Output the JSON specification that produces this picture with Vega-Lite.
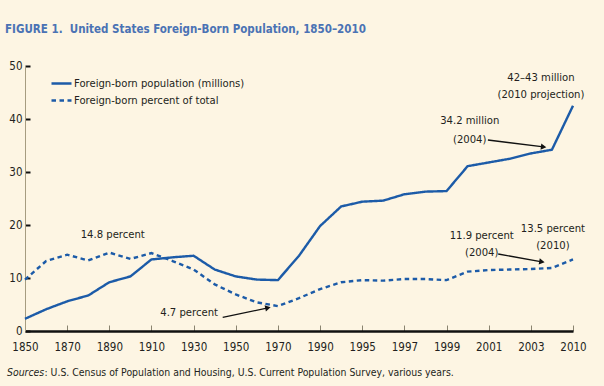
{
  "$schema": "https://vega.github.io/schema/vega-lite/v6.json",
  "width": 548,
  "height": 265,
  "autosize": {"type": "none"},
  "padding": {"left": 25, "top": 66, "right": 31, "bottom": 55},
  "background": "#FDF5E3",
  "title": {
    "text": "FIGURE 1.\u00a0 United States Foreign-Born Population, 1850–2010",
    "anchor": "start",
    "frame": "group",
    "dx": -20,
    "offset": 25,
    "font": "DejaVu Sans Condensed, sans-serif",
    "fontSize": 11.5,
    "fontWeight": "bold",
    "color": "#4A72B4"
  },
  "config": {
    "view": {"stroke": null},
    "font": "DejaVu Sans Condensed, sans-serif",
    "text": {"color": "#231F20", "fontSize": 11.2, "baseline": "middle"}
  },
  "datasets": {
    "series": [
      {"year": "1850", "series": "Foreign-born population (millions)", "value": 2.3},
      {"year": "1860", "series": "Foreign-born population (millions)", "value": 4.1},
      {"year": "1870", "series": "Foreign-born population (millions)", "value": 5.6},
      {"year": "1880", "series": "Foreign-born population (millions)", "value": 6.7},
      {"year": "1890", "series": "Foreign-born population (millions)", "value": 9.2},
      {"year": "1900", "series": "Foreign-born population (millions)", "value": 10.3},
      {"year": "1910", "series": "Foreign-born population (millions)", "value": 13.5},
      {"year": "1920", "series": "Foreign-born population (millions)", "value": 13.9},
      {"year": "1930", "series": "Foreign-born population (millions)", "value": 14.2},
      {"year": "1940", "series": "Foreign-born population (millions)", "value": 11.6},
      {"year": "1950", "series": "Foreign-born population (millions)", "value": 10.3},
      {"year": "1960", "series": "Foreign-born population (millions)", "value": 9.7},
      {"year": "1970", "series": "Foreign-born population (millions)", "value": 9.6},
      {"year": "1980", "series": "Foreign-born population (millions)", "value": 14.2},
      {"year": "1990", "series": "Foreign-born population (millions)", "value": 19.8},
      {"year": "1994", "series": "Foreign-born population (millions)", "value": 23.5},
      {"year": "1995", "series": "Foreign-born population (millions)", "value": 24.4},
      {"year": "1996", "series": "Foreign-born population (millions)", "value": 24.6},
      {"year": "1997", "series": "Foreign-born population (millions)", "value": 25.8},
      {"year": "1998", "series": "Foreign-born population (millions)", "value": 26.3},
      {"year": "1999", "series": "Foreign-born population (millions)", "value": 26.4},
      {"year": "2000", "series": "Foreign-born population (millions)", "value": 31.1},
      {"year": "2001", "series": "Foreign-born population (millions)", "value": 31.8},
      {"year": "2002", "series": "Foreign-born population (millions)", "value": 32.5},
      {"year": "2003", "series": "Foreign-born population (millions)", "value": 33.5},
      {"year": "2004", "series": "Foreign-born population (millions)", "value": 34.2},
      {"year": "2010", "series": "Foreign-born population (millions)", "value": 42.5},
      {"year": "1850", "series": "Foreign-born percent of total", "value": 9.7},
      {"year": "1860", "series": "Foreign-born percent of total", "value": 13.2},
      {"year": "1870", "series": "Foreign-born percent of total", "value": 14.4},
      {"year": "1880", "series": "Foreign-born percent of total", "value": 13.3},
      {"year": "1890", "series": "Foreign-born percent of total", "value": 14.8},
      {"year": "1900", "series": "Foreign-born percent of total", "value": 13.6},
      {"year": "1910", "series": "Foreign-born percent of total", "value": 14.7},
      {"year": "1920", "series": "Foreign-born percent of total", "value": 13.2},
      {"year": "1930", "series": "Foreign-born percent of total", "value": 11.6},
      {"year": "1940", "series": "Foreign-born percent of total", "value": 8.8},
      {"year": "1950", "series": "Foreign-born percent of total", "value": 6.9},
      {"year": "1960", "series": "Foreign-born percent of total", "value": 5.4},
      {"year": "1970", "series": "Foreign-born percent of total", "value": 4.7},
      {"year": "1980", "series": "Foreign-born percent of total", "value": 6.2},
      {"year": "1990", "series": "Foreign-born percent of total", "value": 7.9},
      {"year": "1994", "series": "Foreign-born percent of total", "value": 9.2},
      {"year": "1995", "series": "Foreign-born percent of total", "value": 9.6},
      {"year": "1996", "series": "Foreign-born percent of total", "value": 9.5},
      {"year": "1997", "series": "Foreign-born percent of total", "value": 9.8},
      {"year": "1998", "series": "Foreign-born percent of total", "value": 9.8},
      {"year": "1999", "series": "Foreign-born percent of total", "value": 9.6},
      {"year": "2000", "series": "Foreign-born percent of total", "value": 11.2},
      {"year": "2001", "series": "Foreign-born percent of total", "value": 11.5},
      {"year": "2002", "series": "Foreign-born percent of total", "value": 11.6},
      {"year": "2003", "series": "Foreign-born percent of total", "value": 11.7},
      {"year": "2004", "series": "Foreign-born percent of total", "value": 11.9},
      {"year": "2010", "series": "Foreign-born percent of total", "value": 13.5}
    ]
  },
  "layer": [
    {
      "data": {"name": "series"},
      "mark": {"type": "line", "strokeWidth": 2.4, "color": "#1C5BA8"},
      "encoding": {
        "x": {
          "field": "year", "type": "ordinal",
          "scale": {"type": "point", "padding": 0, "domain": ["1850","1860","1870","1880","1890","1900","1910","1920","1930","1940","1950","1960","1970","1980","1990","1994","1995","1996","1997","1998","1999","2000","2001","2002","2003","2004","2010"]},
          "axis": {
            "values": ["1850","1870","1890","1910","1930","1950","1970","1990","1995","1997","1999","2001","2003","2010"],
            "title": null, "labelAngle": 0, "domainColor": "#111111", "domainWidth": 2.6,
            "tickColor": "#8A8470", "tickSize": -6, "tickWidth": 1,
            "labelFontSize": 11.5, "labelColor": "#231F20", "labelPadding": 16
          }
        },
        "y": {
          "field": "value", "type": "quantitative",
          "scale": {"domain": [0, 50]},
          "axis": {
            "values": [0, 10, 20, 30, 40, 50], "title": null, "grid": false,
            "domainColor": "#A69C80", "domainWidth": 1, "tickColor": "#111111", "tickWidth": 2,
            "tickSize": -5, "labelPadding": 8, "labelFontSize": 11.5, "labelColor": "#231F20"
          }
        },
        "strokeDash": {
          "field": "series", "type": "nominal",
          "scale": {"domain": ["Foreign-born population (millions)", "Foreign-born percent of total"], "range": [[1, 0], [4.5, 3.5]]},
          "legend": {
            "orient": "none", "legendX": 25, "legendY": 6, "title": null, "padding": 0,
            "symbolType": "stroke", "symbolSize": 400, "symbolStrokeWidth": 2.6, "symbolStrokeColor": "#1C5BA8",
            "labelFontSize": 11.2, "labelColor": "#231F20", "rowPadding": -2, "labelOffset": 1, "labelLimit": 400
          }
        }
      }
    },
    {
      "data": {"values": [{"x1": "1940", "y1": 2.58, "x2": "1970", "y2": 4.36}]},
      "mark": {"type": "rule", "color": "#111111", "strokeWidth": 1.3, "xOffset": 8, "x2Offset": -10},
      "encoding": {"x": {"field": "x1", "type": "ordinal"}, "x2": {"field": "x2"}, "y": {"field": "y1", "type": "quantitative"}, "y2": {"field": "y2"}}
    },
    {
      "data": {"values": [{"x": "1970", "y": 4.36}]},
      "mark": {"type": "point", "shape": "triangle-right", "filled": true, "opacity": 1, "size": 40, "angle": -12, "color": "#111111", "xOffset": -10},
      "encoding": {"x": {"field": "x", "type": "ordinal"}, "y": {"field": "y", "type": "quantitative"}}
    },
    {
      "data": {"values": [{"x1": "2001", "y1": 36.04, "x2": "2004", "y2": 34.74}]},
      "mark": {"type": "rule", "color": "#111111", "strokeWidth": 1.3, "xOffset": -0.8, "x2Offset": -8.3},
      "encoding": {"x": {"field": "x1", "type": "ordinal"}, "x2": {"field": "x2"}, "y": {"field": "y1", "type": "quantitative"}, "y2": {"field": "y2"}}
    },
    {
      "data": {"values": [{"x": "2004", "y": 34.74}]},
      "mark": {"type": "point", "shape": "triangle-right", "filled": true, "opacity": 1, "size": 40, "angle": 7, "color": "#111111", "xOffset": -8.3},
      "encoding": {"x": {"field": "x", "type": "ordinal"}, "y": {"field": "y", "type": "quantitative"}}
    },
    {
      "data": {"values": [{"x1": "2001", "y1": 14.53, "x2": "2004", "y2": 13.06}]},
      "mark": {"type": "rule", "color": "#111111", "strokeWidth": 1.3, "xOffset": 9.5, "x2Offset": -10},
      "encoding": {"x": {"field": "x1", "type": "ordinal"}, "x2": {"field": "x2"}, "y": {"field": "y1", "type": "quantitative"}, "y2": {"field": "y2"}}
    },
    {
      "data": {"values": [{"x": "2004", "y": 13.06}]},
      "mark": {"type": "point", "shape": "triangle-right", "filled": true, "opacity": 1, "size": 40, "angle": 10, "color": "#111111", "xOffset": -10},
      "encoding": {"x": {"field": "x", "type": "ordinal"}, "y": {"field": "y", "type": "quantitative"}}
    },
    {
      "data": {"values": [{"label": "14.8 percent", "year": "1890", "value": 18.15}]},
      "mark": {"type": "text", "align": "center", "dx": 3.4},
      "encoding": {"x": {"field": "year", "type": "ordinal"}, "y": {"field": "value", "type": "quantitative"}, "text": {"field": "label"}}
    },
    {
      "data": {"values": [{"label": "4.7 percent", "year": "1940", "value": 3.46}]},
      "mark": {"type": "text", "align": "right", "dx": 3.3},
      "encoding": {"x": {"field": "year", "type": "ordinal"}, "y": {"field": "value", "type": "quantitative"}, "text": {"field": "label"}}
    },
    {
      "data": {"values": [{"label": "34.2 million", "year": "2001", "value": 39.57}, {"label": "(2004)", "year": "2001", "value": 36.04}]},
      "mark": {"type": "text", "align": "center", "dx": -19},
      "encoding": {"x": {"field": "year", "type": "ordinal"}, "y": {"field": "value", "type": "quantitative"}, "text": {"field": "label"}}
    },
    {
      "data": {"values": [{"label": "42–43 million", "year": "2004", "value": 47.77}, {"label": "(2010 projection)", "year": "2004", "value": 44.61}]},
      "mark": {"type": "text", "align": "center", "dx": -11},
      "encoding": {"x": {"field": "year", "type": "ordinal"}, "y": {"field": "value", "type": "quantitative"}, "text": {"field": "label"}}
    },
    {
      "data": {"values": [{"label": "11.9 percent", "year": "2001", "value": 18.0}, {"label": "(2004)", "year": "2001", "value": 14.69}]},
      "mark": {"type": "text", "align": "center", "dx": -7},
      "encoding": {"x": {"field": "year", "type": "ordinal"}, "y": {"field": "value", "type": "quantitative"}, "text": {"field": "label"}}
    },
    {
      "data": {"values": [{"label": "13.5 percent", "year": "2004", "value": 19.28}, {"label": "(2010)", "year": "2004", "value": 16.07}]},
      "mark": {"type": "text", "align": "center", "dx": 1},
      "encoding": {"x": {"field": "year", "type": "ordinal"}, "y": {"field": "value", "type": "quantitative"}, "text": {"field": "label"}}
    },
    {
      "data": {"values": [{"label": "Sources", "year": "1850", "value": -7.94}]},
      "mark": {"type": "text", "align": "left", "dx": -18, "fontStyle": "italic", "fontSize": 10.4},
      "encoding": {"x": {"field": "year", "type": "ordinal"}, "y": {"field": "value", "type": "quantitative"}, "text": {"field": "label"}}
    },
    {
      "data": {"values": [{"label": ": U.S. Census of Population and Housing, U.S. Current Population Survey, various years.", "year": "1850", "value": -7.94}]},
      "mark": {"type": "text", "align": "left", "dx": 19.5, "fontSize": 10.4},
      "encoding": {"x": {"field": "year", "type": "ordinal"}, "y": {"field": "value", "type": "quantitative"}, "text": {"field": "label"}}
    }
  ]
}
